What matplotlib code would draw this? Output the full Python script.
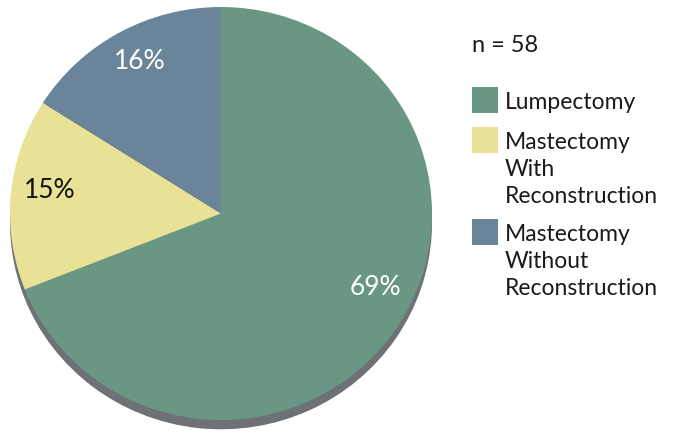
import matplotlib.pyplot as plt
from matplotlib.patches import Rectangle

# Surgery type shares (percent)
labels = ["Lumpectomy", "Mastectomy\nWith\nReconstruction", "Mastectomy\nWithout\nReconstruction"]
shares = [69, 15, 16]
colors = ["#699784", "#e8e196", "#6a8599"]
label_colors = ["white", "#111111", "white"]
n_total = 58

# where each percent label sits, in pie data units
label_pos = [(0.73, -0.36), (-0.81, 0.11), (-0.385, 0.735)]

plt.rcParams['font.family'] = ['Lato', 'DejaVu Sans']

W, H = 678, 438
fig = plt.figure(figsize=(W / 100, H / 100), dpi=100)

# pie spans x 10..432, y 7..420 px
ax = fig.add_axes([10 / W, (H - 420) / H, 422 / W, 413 / H])

# gray "extrusion" under the pie
shadow, _ = ax.pie(shares, colors=["#6e7176"] * 3, startangle=90, counterclock=False,
                   center=(0, -0.045), radius=1.0, wedgeprops=dict(linewidth=0))
for w in shadow:
    w.set_clip_on(False)

wedges, _ = ax.pie(shares, colors=colors, startangle=90, counterclock=False,
                   radius=1.0, wedgeprops=dict(linewidth=0))
for w in wedges:
    w.set_clip_on(False)

ax.set_aspect('auto')
ax.set_xlim(-1, 1)
ax.set_ylim(-1, 1)
ax.axis('off')

for (x, y), v, c in zip(label_pos, shares, label_colors):
    ax.text(x, y, f"{v}%", color=c, fontsize=19, ha='center', va='center')

# legend block on the right
fig.text(472 / W, 1 - 46 / H, f"n = {n_total}", fontsize=17,
         color="#1a1a1a", ha='left', va='center')

box_tops = [87, 127, 219]
for top, lab, col in zip(box_tops, labels, colors):
    fig.patches.append(Rectangle((472 / W, 1 - (top + 26) / H), 26 / W, 26 / H,
                                 transform=fig.transFigure, facecolor=col,
                                 edgecolor='none'))
    fig.text(505 / W, 1 - (top + 5) / H, lab, fontsize=16.5,
             color="#1a1a1a", ha='left', va='top', linespacing=1.36)

fig.savefig("out.png", dpi=100)
